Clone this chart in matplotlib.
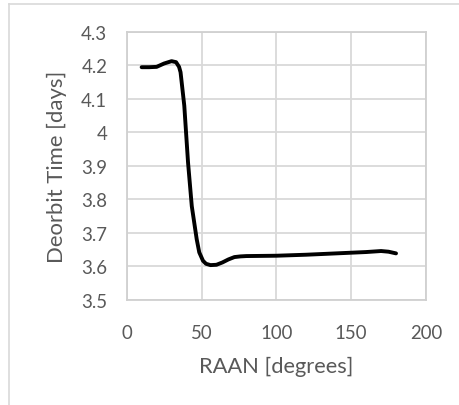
import matplotlib
matplotlib.use("Agg")
import matplotlib.pyplot as plt
from matplotlib.ticker import FuncFormatter
from matplotlib.lines import Line2D

# datos
raan = [10, 15, 20, 25, 30, 33, 35, 36, 38.5, 41, 43.5, 46.8, 48.5, 51, 53, 56, 60,
        64, 68, 72, 76, 80, 100, 120, 140, 160, 170, 175, 180]
deorbit = [4.194, 4.194, 4.195, 4.205, 4.212, 4.209, 4.195, 4.179, 4.079, 3.91, 3.78,
           3.681, 3.642, 3.617, 3.608, 3.604, 3.605, 3.612, 3.621, 3.628, 3.630,
           3.631, 3.632, 3.635, 3.639, 3.643, 3.646, 3.644, 3.639]

xticks = [0, 50, 100, 150, 200]
yticks = [3.5, 3.6, 3.7, 3.8, 3.9, 4.0, 4.1, 4.2, 4.3]

gris = "#595959"
plt.rcParams["font.family"] = ["Lato", "DejaVu Sans"]

W, H = 459, 406
fig = plt.figure(figsize=(W / 100, H / 100), dpi=100)
ax = fig.add_axes([0.276, 0.2586, 0.652, 0.661])

ax.plot(raan, deorbit, color="black", lw=2.8, solid_joinstyle="round",
        solid_capstyle="round", zorder=3)

ax.set_xlim(0, 200)
ax.set_ylim(3.5, 4.3)
ax.set_xticks(xticks)
ax.set_yticks(yticks)
ax.yaxis.set_major_formatter(FuncFormatter(lambda v, p: f"{v:g}"))
ax.grid(True, color="#d9d9d9", lw=1.3)
ax.set_axisbelow(True)
for s in ax.spines.values():
    s.set_color("#d0d0d0")
    s.set_linewidth(1.3)
ax.tick_params(length=0, labelsize=13.5, labelcolor=gris)
ax.tick_params(axis="x", pad=17)
ax.tick_params(axis="y", pad=14)

# titulos de ejes como texto de figura (posicion fija)
xl = fig.text(276 / W, 1 - 367 / H, "RAAN [degrees]", fontsize=15.5, color=gris,
              ha="center", va="center")
yl = fig.text(57 / W, 1 - 167 / H, "Deorbit Time [days]", fontsize=15.5, color=gris,
              ha="center", va="center", rotation=90)

# ajustar tamano de letra al ancho medido en la referencia
r = fig.canvas.get_renderer()
w = xl.get_window_extent(r).width
xl.set_fontsize(15.5 * 155 / w)
h = yl.get_window_extent(r).height
yl.set_fontsize(15.5 * 193 / h)
t = ax.get_xticklabels()[2]
tw = t.get_window_extent(r).width
ax.tick_params(labelsize=13.5 * 32.5 / tw)

# borde del recuadro del grafico
fig.add_artist(Line2D([9 / W, 9 / W], [0, 1 - 5 / H], color="#d9d9d9", lw=1.2))
fig.add_artist(Line2D([9 / W, 1], [1 - 5 / H, 1 - 5 / H], color="#d9d9d9", lw=1.2))

fig.savefig("out.png", dpi=100)
